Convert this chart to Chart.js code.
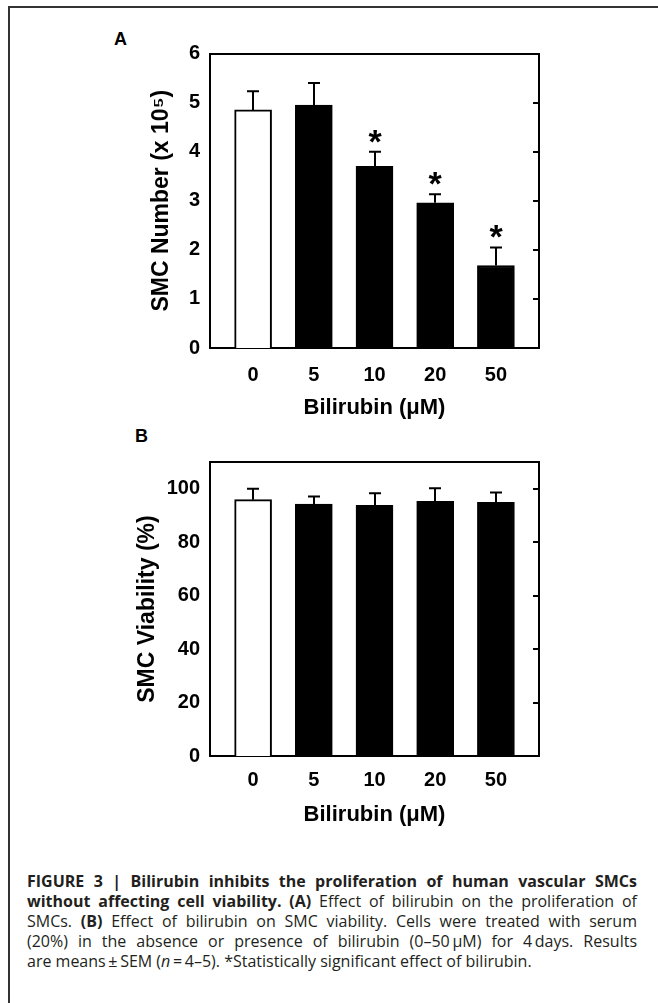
<!DOCTYPE html>
<html>
<head>
<meta charset="utf-8">
<script src="https://cdn.jsdelivr.net/npm/chart.js@4.4.0/dist/chart.umd.min.js"></script>
<style>
  body { margin: 0; background: #fff; width: 658px; height: 1003px; overflow: hidden; position: relative; font-family: "Liberation Sans", Arial, sans-serif; }
  #frame { position: absolute; left: 8px; top: 6px; width: 700px; height: 1100px; border-top: 2px solid #333; border-left: 2px solid #333; }
  canvas { position: absolute; left: 100px; }
  #chartA { top: 30px; }
  #chartB { top: 440px; }
  .panel { position: absolute; font: bold 18px "Liberation Sans", Arial, sans-serif; color: #000; }
  #caption { position: absolute; left: 27px; top: 871px; width: 610px; font: 16px/20px "Open Sans", sans-serif; color: #231f20; }
  #caption div { text-align: justify; text-align-last: justify; white-space: nowrap; }
  #caption div.last { text-align-last: left; }
</style>
</head>
<body>
<div id="frame"></div>
<div class="panel" style="left:114px;top:29px">A</div>
<div class="panel" style="left:135px;top:426px">B</div>
<canvas id="chartA" width="460" height="400"></canvas>
<canvas id="chartB" width="460" height="400"></canvas>
<div id="caption">
  <div><b>FIGURE 3 | Bilirubin inhibits the proliferation of human vascular SMCs</b></div>
  <div><b>without affecting cell viability. (A)</b> Effect of bilirubin on the proliferation of</div>
  <div>SMCs. <b>(B)</b> Effect of bilirubin on SMC viability. Cells were treated with serum</div>
  <div>(20%) in the absence or presence of bilirubin (0–50&thinsp;μM) for 4&thinsp;days. Results</div>
  <div class="last">are means&thinsp;±&thinsp;SEM (<i>n</i>&thinsp;=&thinsp;4–5). *Statistically significant effect of bilirubin.</div>
</div>
<script>
// bilirubin doses (µM)
const doses = ['0', '5', '10', '20', '50']
const barColors = ['#ffffff', '#000000', '#000000', '#000000', '#000000']

// panel A: SMC number (x 10^5)
const smcNumber = [4.85, 4.95, 3.70, 2.96, 1.68]
const smcNumberSem = [0.38, 0.45, 0.30, 0.17, 0.37]
const significant = [false, false, true, true, true]
const ticksA = [0, 1, 2, 3, 4, 5, 6]

// panel B: SMC viability (%)
const viability = [95.9, 94.3, 93.8, 95.3, 94.9]
const viabilitySem = [4.1, 2.8, 4.5, 4.9, 3.7]
const ticksB = [0, 20, 40, 60, 80, 100]

Chart.defaults.color = '#000'
Chart.defaults.font.family = '"Liberation Sans", Arial, sans-serif'

const errorBars = {
    id: 'errorBars',
    afterDatasetsDraw(chart, args, opts) {
        const ctx = chart.ctx
        const x = chart.scales.x
        const y = chart.scales.y
        ctx.save()
        ctx.strokeStyle = '#000'
        ctx.fillStyle = '#000'
        ctx.lineWidth = 2
        chart.data.datasets[0].data.forEach((p, i) => {
            const px = Math.round(x.getPixelForValue(p.x))
            const top = y.getPixelForValue(p.y)
            const end = y.getPixelForValue(p.y + opts.sem[i])
            ctx.beginPath()
            ctx.moveTo(px, top)
            ctx.lineTo(px, end)
            ctx.moveTo(px - 6, end)
            ctx.lineTo(px + 6, end)
            ctx.stroke()
            if (opts.stars && opts.stars[i]) {
                ctx.font = 'bold 34px "Liberation Sans", Arial'
                ctx.textAlign = 'center'
                ctx.textBaseline = 'alphabetic'
                ctx.fillText('*', px, end + 1)
            }
        })
        ctx.restore()
    }
}

function barChart(id, values, sem, stars, yMax, yTicks, yTitle, pad) {
    const points = values.map((v, i) => ({ x: i, y: v }))
    return new Chart(document.getElementById(id), {
        type: 'bar',
        data: {
            datasets: [{
                data: points,
                backgroundColor: barColors,
                borderColor: '#000',
                borderWidth: 2,
                barThickness: 37
            }]
        },
        options: {
            responsive: false,
            animation: false,
            devicePixelRatio: 1,
            layout: { padding: { top: pad.top, right: 21, left: 0, bottom: 0 } },
            plugins: {
                legend: { display: false },
                tooltip: { enabled: false },
                errorBars: { sem: sem, stars: stars }
            },
            scales: {
                x: {
                    type: 'linear',
                    offset: false,
                    min: -0.71,
                    max: 4.71,
                    afterBuildTicks: s => { s.ticks = doses.map((d, i) => ({ value: i })) },
                    afterFit: s => { s.height = pad.xHeight },
                    ticks: {
                        callback: v => doses[v],
                        font: { size: 20, weight: 'bold' },
                        padding: pad.xTick,
                        maxRotation: 0
                    },
                    grid: { display: false, drawTicks: false, offset: false },
                    border: { display: true, color: '#000', width: 2 },
                    title: {
                        display: true,
                        text: 'Bilirubin (μM)',
                        font: { size: 22, weight: 'bold' },
                        padding: { top: 0, bottom: pad.xTitle }
                    }
                },
                x2: {
                    type: 'linear',
                    position: 'top',
                    offset: false,
                    min: -0.71,
                    max: 4.71,
                    afterFit: s => { s.height = 0 },
                    ticks: { display: false },
                    grid: { display: false, drawTicks: false },
                    border: { display: true, color: '#000', width: 2 }
                },
                y: {
                    min: 0,
                    max: yMax,
                    afterBuildTicks: s => { s.ticks = yTicks.map(v => ({ value: v })) },
                    afterFit: s => { s.width = 110 },
                    ticks: { font: { size: 20, weight: 'bold' }, padding: 10 },
                    grid: { display: false, drawTicks: false },
                    border: { display: true, color: '#000', width: 2 },
                    title: {
                        display: true,
                        text: yTitle,
                        font: { size: 23, weight: 'bold' },
                        padding: { top: pad.yTitle, bottom: 0 }
                    }
                },
                y2: {
                    position: 'right',
                    min: 0,
                    max: yMax,
                    afterBuildTicks: s => { s.ticks = yTicks.map(v => ({ value: v })) },
                    afterFit: s => { s.width = 0 },
                    ticks: { display: false },
                    grid: { display: true, drawOnChartArea: false, drawTicks: true, tickLength: -6, color: '#000', lineWidth: 2 },
                    border: { display: true, color: '#000', width: 2 }
                }
            }
        },
        plugins: [errorBars]
    })
}

barChart('chartA', smcNumber, smcNumberSem, significant, 6, ticksA, 'SMC Number (x 10⁵)',
    { top: 23.5, xHeight: 82, xTick: 15, xTitle: 8.8, yTitle: 48.2 })
barChart('chartB', viability, viabilitySem, null, 110, ticksB, 'SMC Viability (%)',
    { top: 21.7, xHeight: 84, xTick: 12.5, xTitle: 11.8, yTitle: 34.2 })
</script>
</body>
</html>
